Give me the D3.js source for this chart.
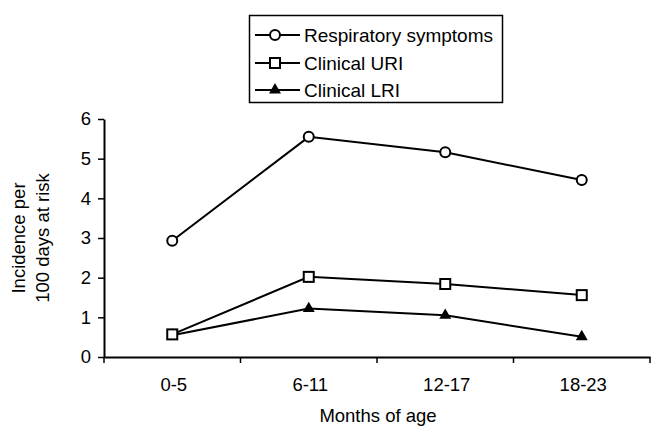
<!DOCTYPE html>
<html><head><meta charset="utf-8">
<script src="https://cdn.jsdelivr.net/npm/d3@7"></script>
<style>body{margin:0;background:#fff}svg{display:block}text{font-family:"Liberation Sans",Arial,sans-serif;fill:#000}</style>
</head><body>
<script>
const categories = ["0-5","6-11","12-17","18-23"];
const respiratory = [2.93, 5.55, 5.16, 4.46];
const clinicalURI = [0.57, 2.02, 1.84, 1.56];
const clinicalLRI = [0.55, 1.22, 1.05, 0.51];
const yTicks = [0,1,2,3,4,5,6];
const seriesNames = ["Respiratory symptoms","Clinical URI","Clinical LRI"];
const markers = ["circle","square","triangle"];

const W=666,H=438;
const svg=d3.select("body").append("svg").attr("width",W).attr("height",H);
const fs=18.5;
const FF="Liberation Sans, Arial, sans-serif";

const y=d3.scaleLinear().domain([0,6]).range([357,119]);
const x=d3.scaleBand().domain(categories).range([104,650]);
const cx=c=>x(c)+x.bandwidth()/2;

// y axis
const ya=svg.append("g").attr("transform","translate(104,0)")
  .call(d3.axisLeft(y).tickValues(yTicks).tickFormat(d3.format("d")).tickSize(6).tickSizeOuter(0));
ya.select(".domain").attr("stroke","#000").attr("stroke-width",2);
ya.selectAll(".tick line").attr("stroke","#000").attr("stroke-width",1.5);
ya.selectAll(".tick text").attr("font-size",fs).attr("font-family",FF).attr("x",-13);

// x axis
const xa=svg.append("g").attr("transform","translate(0,357)")
  .call(d3.axisBottom(x).tickSize(0).tickSizeOuter(0));
xa.select(".domain").attr("stroke","#000").attr("stroke-width",2);
xa.selectAll(".tick text").attr("font-size",fs).attr("font-family",FF).attr("y",21).attr("dx","1.5px");
// boundary ticks
const bounds=categories.map(c=>x(c)).concat([x(categories[categories.length-1])+x.bandwidth()]);
svg.append("g").selectAll("line").data(bounds).join("line")
  .attr("x1",d=>d).attr("x2",d=>d).attr("y1",357).attr("y2",363)
  .attr("stroke","#000").attr("stroke-width",1.5);

// axis titles
svg.append("text").attr("x",378).attr("y",422).attr("text-anchor","middle").attr("font-size",fs).text("Months of age");
const yl=svg.append("text").attr("transform","translate(0,238) rotate(-90)").attr("text-anchor","middle").attr("font-size",fs);
yl.append("tspan").attr("x",0).attr("y",25).text("Incidence per");
yl.append("tspan").attr("x",0).attr("y",49).text("100 days at risk");

function drawMarker(g,type,px,py){
  if(type==="circle") g.append("circle").attr("cx",px).attr("cy",py).attr("r",5).attr("fill","#fff").attr("stroke","#000").attr("stroke-width",2);
  else if(type==="square") g.append("rect").attr("x",px-5).attr("y",py-5).attr("width",10).attr("height",10).attr("fill","#fff").attr("stroke","#000").attr("stroke-width",2);
  else g.append("path").attr("d",d3.symbol().type(d3.symbolTriangle).size(62)()).attr("transform",`translate(${px},${py})`).attr("fill","#000");
}

const allSeries=[respiratory,clinicalURI,clinicalLRI];
const line=d3.line().x((d,i)=>cx(categories[i])).y(d=>y(d));
allSeries.forEach(vals=>{
  svg.append("path").attr("d",line(vals)).attr("fill","none").attr("stroke","#000").attr("stroke-width",2);
});
[2,1,0].forEach(si=>{
  const g=svg.append("g");
  allSeries[si].forEach((v,i)=>drawMarker(g,markers[si],cx(categories[i]),y(v)));
});

// legend
const lg=svg.append("g");
lg.append("rect").attr("x",249.5).attr("y",15.5).attr("width",253).attr("height",87).attr("fill","#fff").attr("stroke","#000").attr("stroke-width",1.5);
const rowY=[35,63,90];
seriesNames.forEach((n,i)=>{
  lg.append("line").attr("x1",255).attr("x2",300).attr("y1",rowY[i]).attr("y2",rowY[i]).attr("stroke","#000").attr("stroke-width",2);
  drawMarker(lg,markers[i],275,rowY[i]);
  lg.append("text").attr("x",304).attr("y",rowY[i]).attr("dy","0.36em").attr("font-size",19).text(n);
});
</script>
</body></html>
